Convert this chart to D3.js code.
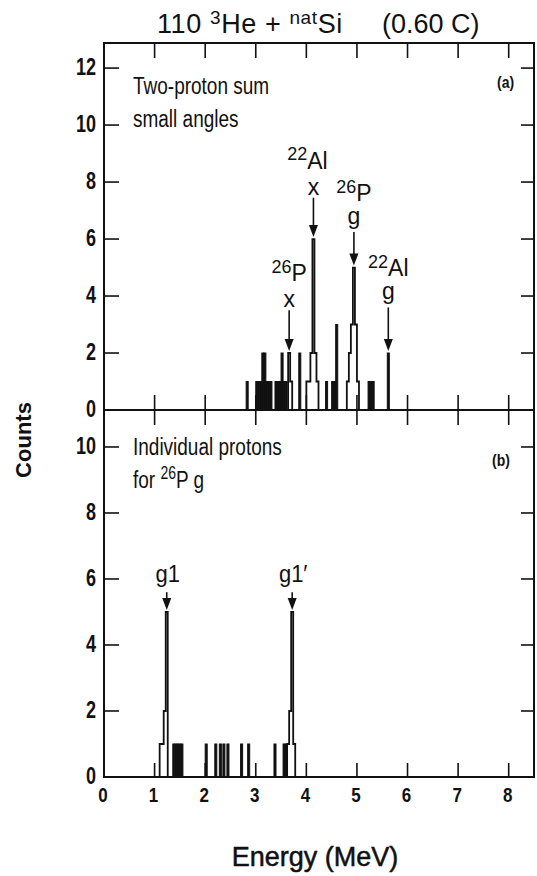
<!DOCTYPE html>
<html>
<head>
<meta charset="utf-8">
<script src="https://cdn.jsdelivr.net/npm/d3@7"></script>
<style>
  body { margin: 0; background: #fff; }
  svg { display: block; }
  text { font-family: "Liberation Sans", Arial, Helvetica, sans-serif; fill: #111; }
</style>
</head>
<body>
<div id="chart"></div>
<script>
// axis ticks
const energyTicks = [0, 1, 2, 3, 4, 5, 6, 7, 8];
const countTicksA = [0, 2, 4, 6, 8, 10, 12];
const countTicksB = [0, 2, 4, 6, 8, 10];
const binWidth = 0.04; // MeV

// panel (a): two-proton sum, [energy MeV, counts]
const barsA = [
  [2.83, 1], [3.02, 1], [3.06, 1], [3.10, 1], [3.14, 2], [3.18, 2], [3.22, 1],
  [3.26, 1], [3.30, 1], [3.40, 1], [3.44, 1], [3.48, 1], [3.52, 2], [3.56, 1],
  [3.60, 1], [3.87, 2], [4.40, 1], [4.52, 1], [4.56, 1], [4.60, 3],
  [5.24, 1], [5.28, 1], [5.32, 1], [5.62, 2]
];
const peaksA = [
  [[3.66, 2], [3.70, 1]],
  [[4.02, 1], [4.06, 1], [4.10, 2], [4.14, 6], [4.18, 2], [4.22, 1]],
  [[4.82, 1], [4.86, 2], [4.90, 3], [4.94, 5], [4.98, 3], [5.02, 1]]
];
// panel (b): individual protons for 26P g
const barsB = [
  [1.38, 1], [1.42, 1], [1.46, 1], [1.50, 1], [1.54, 1],
  [2.02, 1], [2.21, 1], [2.30, 1], [2.37, 1], [2.45, 1], [2.72, 1], [2.86, 1],
  [3.38, 1], [3.56, 1], [3.60, 1]
];
const peaksB = [
  [[1.12, 1], [1.16, 1], [1.20, 2], [1.24, 5]],
  [[3.64, 1], [3.68, 2], [3.72, 5], [3.76, 1]]
];

// arrow labels: energy, arrow from / to (counts)
const marksA = [
  { sup: '26', main: 'P', line2: 'x', e: 3.66, from: 3.5, to: 2 },
  { sup: '22', main: 'Al', line2: 'x', e: 4.14, from: 7.45, to: 6 },
  { sup: '26', main: 'P', line2: 'g', e: 4.94, from: 6.25, to: 5 },
  { sup: '22', main: 'Al', line2: 'g', e: 5.62, from: 3.6, to: 2 }
];
const marksB = [
  { main: 'g1', e: 1.24, from: 5.6, to: 5 },
  { main: 'g1\u2032', e: 3.72, from: 5.6, to: 5 }
];

const width = 537;
const height = 876;
const left = 104, right = 534;
const topA = 43, zeroA = 410, zeroB = 777;

const svg = d3.select('#chart')
  .append('svg')
  .attr('width', width)
  .attr('height', height)
  .attr('xmlns', 'http://www.w3.org/2000/svg');

const x = d3.scaleLinear().domain([0, 8.5]).range([left, right]);
const yA = d3.scaleLinear().domain([0, 12.88]).range([zeroA, topA]);
const yB = d3.scaleLinear().domain([0, 11.12]).range([zeroB, zeroA]);

// text stretched a bit in y like the scanned figure
const addText = (g, px, py, sy) => g.append('text')
  .attr('transform', `translate(${px},${py}) scale(1,${sy})`);

const drawPanel = (y, bars, peaks, marks) => {
  const g = svg.append('g');

  g.selectAll('rect.bar')
    .data(bars)
    .enter()
    .append('rect')
    .attr('class', 'bar')
    .attr('x', (d) => x(d[0] - binWidth / 2))
    .attr('width', x(binWidth) - x(0))
    .attr('y', (d) => y(d[1]))
    .attr('height', (d) => y(0) - y(d[1]))
    .attr('fill', '#111')
    .attr('stroke', '#111')
    .attr('stroke-width', 1);

  // peaks drawn as hollow step outlines
  const outline = (bins) => {
    const pts = [[bins[0][0] - binWidth / 2, 0]];
    bins.forEach((b) => {
      pts.push([b[0] - binWidth / 2, b[1]]);
      pts.push([b[0] + binWidth / 2, b[1]]);
    });
    pts.push([bins[bins.length - 1][0] + binWidth / 2, 0]);
    return pts;
  };
  const line = d3.line().x((d) => x(d[0])).y((d) => y(d[1]));
  g.selectAll('path.peak')
    .data(peaks)
    .enter()
    .append('path')
    .attr('class', 'peak')
    .attr('d', (d) => line(outline(d)))
    .attr('fill', '#fff')
    .attr('stroke', '#111')
    .attr('stroke-width', 1.8)
    .attr('stroke-linejoin', 'miter');

  // arrows
  marks.forEach((m) => {
    const ax = x(m.e);
    const tip = y(m.to) - 2;
    const tail = y(m.from);
    g.append('line')
      .attr('x1', ax).attr('x2', ax)
      .attr('y1', tail).attr('y2', tip - 8)
      .attr('stroke', '#111')
      .attr('stroke-width', 1.6);
    g.append('path')
      .attr('d', `M${ax - 4.5},${tip - 12} L${ax + 4.5},${tip - 12} L${ax},${tip} Z`)
      .attr('fill', '#111');

    if (m.line2) {
      const isG = m.line2 === 'g';
      const b2 = tail - (isG ? 8 : 3);
      addText(g, ax, b2, 1.05)
        .attr('text-anchor', 'middle')
        .attr('font-size', 23)
        .text(m.line2);
      const t1 = addText(g, ax - (m.main === 'Al' && !isG ? 6 : 0), b2 - (isG ? 23 : 26), 1.05)
        .attr('text-anchor', 'middle')
        .attr('font-size', 23);
      t1.append('tspan').attr('font-size', 18).attr('dy', -8).text(m.sup);
      t1.append('tspan').attr('dy', 8).text(m.main);
    } else {
      addText(g, ax + 1, tail - 10, 1.1)
        .attr('text-anchor', 'middle')
        .attr('font-size', 22)
        .text(m.main);
    }
  });
  return g;
};

drawPanel(yA, barsA, peaksA, marksA);
drawPanel(yB, barsB, peaksB, marksB);

// frame
const frame = svg.append('g')
  .attr('fill', 'none')
  .attr('stroke', '#111')
  .attr('stroke-width', 2);
frame.append('rect')
  .attr('x', x(0)).attr('y', topA)
  .attr('width', x(8.5) - x(0))
  .attr('height', zeroB - topA);
frame.append('line')
  .attr('x1', x(0)).attr('x2', x(8.5))
  .attr('y1', zeroA).attr('y2', zeroA);

// energy ticks: top edge, middle line (both ways), bottom edge
const ticks = svg.append('g').attr('stroke', '#111').attr('stroke-width', 1.6);
energyTicks.slice(1).forEach((e) => {
  ticks.append('line').attr('x1', x(e)).attr('x2', x(e)).attr('y1', topA).attr('y2', topA + 15);
  ticks.append('line').attr('x1', x(e)).attr('x2', x(e)).attr('y1', zeroA - 15).attr('y2', zeroA + 15);
  ticks.append('line').attr('x1', x(e)).attr('x2', x(e)).attr('y1', zeroB - 14).attr('y2', zeroB);
});
countTicksA.slice(1).forEach((c) => {
  ticks.append('line').attr('x1', x(0)).attr('x2', x(0) + 15).attr('y1', yA(c)).attr('y2', yA(c));
  ticks.append('line').attr('x1', x(8.5) - 13).attr('x2', x(8.5)).attr('y1', yA(c)).attr('y2', yA(c));
});
countTicksB.slice(1).forEach((c) => {
  ticks.append('line').attr('x1', x(0)).attr('x2', x(0) + 15).attr('y1', yB(c)).attr('y2', yB(c));
  ticks.append('line').attr('x1', x(8.5) - 13).attr('x2', x(8.5)).attr('y1', yB(c)).attr('y2', yB(c));
});

// tick labels
const labels = svg.append('g');
countTicksA.forEach((c) => {
  addText(labels, 96, yA(c) + 7, 1.3)
    .attr('text-anchor', 'end').attr('font-size', 18).attr('font-weight', 'bold').text(c);
});
countTicksB.forEach((c) => {
  addText(labels, 96, yB(c) + 7, 1.3)
    .attr('text-anchor', 'end').attr('font-size', 18).attr('font-weight', 'bold').text(c);
});
energyTicks.forEach((e) => {
  addText(labels, x(e) - 1, 802, 1.15)
    .attr('text-anchor', 'middle').attr('font-size', 17).attr('font-weight', 'bold').text(e);
});

// panel texts
addText(labels, 133, 94, 1.3).attr('font-size', 19).text('Two-proton sum');
addText(labels, 133, 127, 1.3).attr('font-size', 19).text('small angles');
addText(labels, 133, 455, 1.3).attr('font-size', 19).text('Individual  protons');
const forText = addText(labels, 133, 488, 1.3).attr('font-size', 19);
forText.append('tspan').text('for ');
forText.append('tspan').attr('font-size', 14).attr('dy', -7).text('26');
forText.append('tspan').attr('dy', 7).text('P  g');
addText(labels, 497, 88, 1.2).attr('font-size', 14).attr('font-weight', 'bold').text('(a)');
addText(labels, 492, 466, 1.2).attr('font-size', 14).attr('font-weight', 'bold').text('(b)');

// title
const title = svg.append('text')
  .attr('x', 157).attr('y', 33)
  .attr('font-size', 27)
  .attr('letter-spacing', 0.6);
title.append('tspan').text('110 ');
title.append('tspan').attr('font-size', 19).attr('dy', -9).text('3');
title.append('tspan').attr('dy', 9).text('He + ');
title.append('tspan').attr('font-size', 19).attr('dy', -9).text('nat');
title.append('tspan').attr('dy', 9).text('Si');
svg.append('text')
  .attr('x', 382).attr('y', 33)
  .attr('font-size', 27)
  .text('(0.60 C)');

// axis titles
svg.append('text')
  .attr('x', 315).attr('y', 866)
  .attr('text-anchor', 'middle')
  .attr('font-size', 27)
  .attr('stroke', '#111')
  .attr('stroke-width', 0.5)
  .text('Energy (MeV)');
svg.append('text')
  .attr('transform', `translate(31,440) rotate(-90)`)
  .attr('text-anchor', 'middle')
  .attr('font-size', 22)
  .attr('font-weight', 'bold')
  .text('Counts');
</script>
</body>
</html>
